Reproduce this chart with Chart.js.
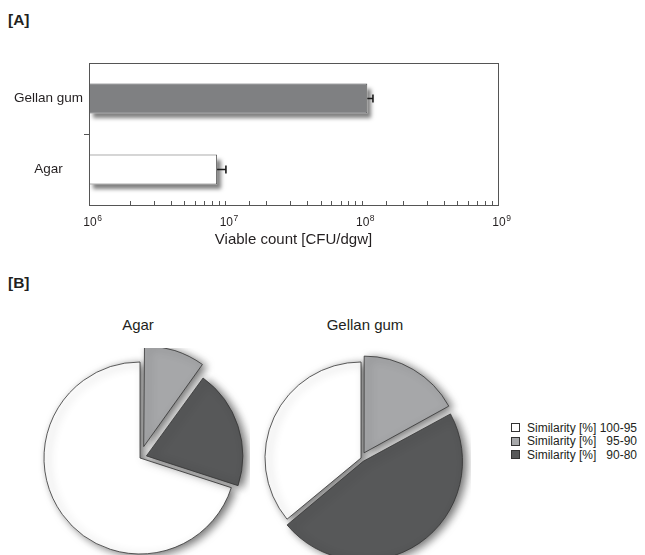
<!DOCTYPE html>
<html>
<head>
<meta charset="utf-8">
<script src="https://cdn.jsdelivr.net/npm/chart.js@4.4.1/dist/chart.umd.min.js"></script>
<style>
  body { margin: 0; width: 645px; height: 555px; position: relative; overflow: hidden; background: #fff;
         font-family: 'Liberation Sans', Arial, sans-serif; color: #231f20; }
  .panel { position: absolute; left: 8px; font-weight: bold; font-size: 15.5px; }
  #barBox { position: absolute; left: 0; top: 0; width: 645px; height: 260px; }
  .pieBox { position: absolute; top: 348px; width: 220px; height: 220px; }
  .pieTitle { position: absolute; top: 316px; width: 200px; text-align: center; font-size: 15px; }
  #legend { position: absolute; left: 511px; top: 421px; font-size: 12px; }
  .row { height: 13.5px; display: flex; align-items: center; white-space: pre; }
  .swatch { width: 7px; height: 7px; border: 1px solid #333; margin-right: 7px; }
</style>
</head>
<body>
<div class="panel" style="top:11px">[A]</div>
<div class="panel" style="top:274px">[B]</div>
<div id="barBox"><canvas id="barChart"></canvas></div>
<div class="pieTitle" id="title0" style="left:38px"></div>
<div class="pieTitle" id="title1" style="left:265px"></div>
<div class="pieBox" style="left:30px"><canvas id="pieAgar"></canvas></div>
<div class="pieBox" style="left:251px"><canvas id="pieGellan"></canvas></div>
<div id="legend"></div>

<script>
// [A] viable counts
const barCategories = ['Gellan gum', 'Agar'];
const viableCounts = [1.1e8, 8.7e6];
const viableErrors = [1.1e7, 1.4e6];
const tickExponents = ['6', '7', '8', '9'];

// [B] similarity shares (%)
const pieTitles = ['Agar', 'Gellan gum'];
const similarityClasses = ['Similarity [%] 100-95', 'Similarity [%]   95-90', 'Similarity [%]   90-80'];
const agarShares = [70, 10, 20];
const gellanShares = [36, 17, 47];

const sliceColors = ['#ffffff', '#a6a7a9', '#575859'];

Chart.defaults.font.family = "'Liberation Sans', Arial, sans-serif";
Chart.defaults.color = '#231f20';
Chart.defaults.animation = false;
Chart.defaults.events = [];

const softShadow = {
    id: 'softShadow',
    beforeDatasetsDraw(chart, args, opts) {
        const c = chart.ctx;
        c.save();
        c.shadowColor = opts.color;
        c.shadowBlur = opts.blur;
        c.shadowOffsetX = opts.dx;
        c.shadowOffsetY = opts.dy;
    },
    afterDatasetsDraw(chart) {
        chart.ctx.restore();
    }
};

// bars clip their own shadow, so cast it from a hidden rect under each bar
const barShadow = {
    id: 'barShadow',
    beforeDatasetsDraw(chart) {
        const ctx = chart.ctx;
        ctx.save();
        ctx.shadowColor = 'rgba(0,0,0,0.5)';
        ctx.shadowBlur = 4;
        ctx.shadowOffsetX = 4;
        ctx.shadowOffsetY = 5;
        ctx.fillStyle = '#ffffff';
        chart.getDatasetMeta(0).data.forEach(bar => {
            const p = bar.getProps(['x', 'y', 'base', 'height']);
            ctx.fillRect(p.base, p.y - p.height / 2, p.x - p.base, p.height);
        });
        ctx.restore();
    }
};

const frameAndErrors = {
    id: 'frameAndErrors',
    afterDraw(chart) {
        const ctx = chart.ctx;
        const a = chart.chartArea;
        const xs = chart.scales.x;
        ctx.save();
        // plot box
        ctx.strokeStyle = '#555';
        ctx.lineWidth = 1;
        ctx.strokeRect(Math.round(a.left) + 0.5, Math.round(a.top) + 0.5,
            Math.round(a.right - a.left), Math.round(a.bottom - a.top));
        // inward log ticks
        ctx.beginPath();
        xs.ticks.forEach(t => {
            const px = Math.round(xs.getPixelForValue(t.value)) + 0.5;
            ctx.moveTo(px, a.bottom);
            ctx.lineTo(px, a.bottom - 4);
        });
        ctx.stroke();
        // decade labels 10^n
        ctx.fillStyle = '#231f20';
        ctx.textBaseline = 'alphabetic';
        tickExponents.forEach(e => {
            const px = xs.getPixelForValue(Math.pow(10, Number(e)));
            ctx.font = "12px 'Liberation Sans', Arial, sans-serif";
            ctx.textAlign = 'center';
            ctx.fillText('10', px + 1, a.bottom + 21);
            const w = ctx.measureText('10').width;
            ctx.font = "8.5px 'Liberation Sans', Arial, sans-serif";
            ctx.textAlign = 'left';
            ctx.fillText(e, px + 1.5 + w / 2, a.bottom + 16);
        });
        // error bars (upper half)
        ctx.strokeStyle = '#1a1a1a';
        ctx.lineWidth = 1.6;
        chart.getDatasetMeta(0).data.forEach((bar, i) => {
            const x0 = xs.getPixelForValue(viableCounts[i]);
            const x1 = xs.getPixelForValue(viableCounts[i] + viableErrors[i]);
            ctx.beginPath();
            ctx.moveTo(x0, bar.y);
            ctx.lineTo(x1, bar.y);
            ctx.moveTo(x1, bar.y - 4);
            ctx.lineTo(x1, bar.y + 4);
            ctx.stroke();
        });
        ctx.restore();
    }
};

new Chart(document.getElementById('barChart'), {
    type: 'bar',
    data: {
        labels: barCategories,
        datasets: [{
            data: viableCounts,
            backgroundColor: ['#7f8082', '#ffffff'],
            borderColor: ['#4d4d4f', '#5a5a5a'],
            borderWidth: 1,
            barPercentage: 0.42,
            categoryPercentage: 1
        }]
    },
    options: {
        indexAxis: 'y',
        responsive: true,
        maintainAspectRatio: false,
        layout: { padding: { top: 63, right: 147, left: 0, bottom: 0 } },
        plugins: {
            legend: { display: false },
            tooltip: { enabled: false }
        },
        scales: {
            x: {
                type: 'logarithmic',
                min: 1e6,
                max: 1e9,
                grid: { display: false },
                border: { display: false },
                ticks: { display: false, autoSkip: false },
                title: {
                    display: true,
                    text: 'Viable count [CFU/dgw]',
                    font: { size: 15 },
                    padding: { top: 4, bottom: 11 }
                },
                afterFit: function(scale) { scale.height = 55; }
            },
            y: {
                grid: {
                    drawOnChartArea: false,
                    tickLength: 5,
                    color: ctx => ctx.index === 1 ? '#555' : 'transparent'
                },
                border: { display: false },
                ticks: { crossAlign: 'center', padding: 1, font: { size: 13.5 } },
                afterFit: function(scale) { scale.width = 89; }
            }
        }
    },
    plugins: [barShadow, frameAndErrors]
});

function makePie(id, shares, offsets) {
    const total = shares.reduce((s, v) => s + v, 0);
    return new Chart(document.getElementById(id), {
        type: 'pie',
        data: {
            labels: similarityClasses,
            datasets: [{
                data: shares,
                backgroundColor: sliceColors,
                borderColor: '#333',
                borderWidth: 0.8,
                offset: offsets
            }]
        },
        options: {
            responsive: true,
            maintainAspectRatio: false,
            radius: 96,
            rotation: -(shares[0] / total) * 360,
            plugins: {
                legend: { display: false },
                tooltip: { enabled: false },
                softShadow: { color: 'rgba(0,0,0,0.55)', blur: 8, dx: 4, dy: 2 }
            }
        },
        plugins: [softShadow]
    });
}

// Chart.js moves an arc by offset / 4
makePie('pieAgar', agarShares, [0, 48, 27]);
makePie('pieGellan', gellanShares, [0, 24, 16]);

pieTitles.forEach((t, i) => { document.getElementById('title' + i).textContent = t; });

const legend = document.getElementById('legend');
similarityClasses.forEach((label, i) => {
    const row = document.createElement('div');
    row.className = 'row';
    row.innerHTML = `<span class="swatch" style="background:${sliceColors[i]}"></span><span>${label}</span>`;
    legend.appendChild(row);
});
</script>
</body>
</html>
